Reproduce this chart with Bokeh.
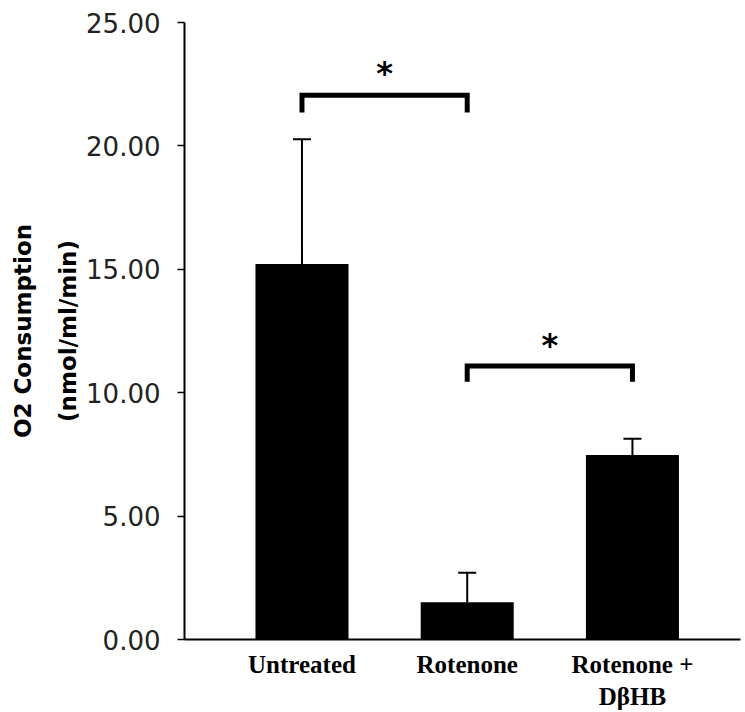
from bokeh.plotting import figure
from bokeh.models import (ColumnDataSource, Range1d, FixedTicker, PrintfTickFormatter,
                          Whisker, TeeHead)
from bokeh.core.properties import value
from bokeh.embed import file_html
from bokeh.resources import INLINE

# ---- data ----
categories = ["Untreated", "Rotenone", "Rotenone +\nD\u03b2HB"]
means = [15.21, 1.51, 7.48]
err_upper = [20.27, 2.70, 8.13]
y_ticks = [0, 5, 10, 15, 20, 25]
# significance brackets: (from category index, to category index), level, star
bracket_from = [0, 1]
bracket_to = [1, 2]
bracket_level = [22.05, 11.08]
bracket_leg = [0.70, 0.64]
star_level = [22.95, 11.95]
star_text = ["*", "*"]

xpos = [i + 1 for i in range(len(categories))]

p = figure(width=745, height=712, output_backend="svg", toolbar_location=None,
           x_range=Range1d(0.289, 3.654), y_range=Range1d(0, 25),
           min_border_left=184, min_border_right=5, min_border_top=22,
           min_border_bottom=72)
p.background_fill_color = "white"
p.border_fill_color = "white"
p.outline_line_color = None
p.xgrid.grid_line_color = None
p.ygrid.grid_line_color = None

src = ColumnDataSource(dict(x=xpos, top=means, upper=err_upper))
p.vbar(x="x", top="top", width=0.563, source=src, fill_color="black", line_color=None)

wh = Whisker(base="x", lower="top", upper="upper", source=src,
             line_color="black", line_width=2,
             upper_head=TeeHead(size=18, line_color="black", line_width=2),
             lower_head=None)
p.add_layout(wh)

# brackets
bxs, bys = [], []
for a, b, lv, lg in zip(bracket_from, bracket_to, bracket_level, bracket_leg):
    x1, x2 = xpos[a], xpos[b]
    bxs.append([x1, x1, x2, x2])
    bys.append([lv - lg, lv, lv, lv - lg])
p.multi_line(xs=bxs, ys=bys, line_color="black", line_width=5, line_join="miter")

sx = [(xpos[a] + xpos[b]) / 2 for a, b in zip(bracket_from, bracket_to)]
p.text(x=sx, y=star_level, text=star_text, text_align="center", text_baseline="middle",
       text_font=value("DejaVu Sans"), text_font_size="32px", text_font_style="bold",
       text_color="black")

# y axis
p.yaxis.ticker = FixedTicker(ticks=y_ticks)
p.yaxis.formatter = PrintfTickFormatter(format="%.2f")
p.yaxis.major_label_text_font = "DejaVu Sans"
p.yaxis.major_label_text_font_size = "26px"
p.yaxis.major_label_text_color = "#222222"
p.yaxis.major_label_standoff = 17
p.yaxis.major_tick_out = 7
p.yaxis.major_tick_in = 0
p.yaxis.minor_tick_line_color = None
p.yaxis.axis_line_width = 2
p.yaxis.major_tick_line_width = 1.5
p.yaxis.axis_label = "O2 Consumption\n(nmol/ml/min)"
p.yaxis.axis_label_text_font = "DejaVu Sans"
p.yaxis.axis_label_text_font_style = "bold"
p.yaxis.axis_label_text_font_size = "23px"
p.yaxis.axis_label_text_line_height = 1.75
p.yaxis.axis_label_text_color = "black"
p.yaxis.axis_label_standoff = 2

# x axis
p.xaxis.ticker = FixedTicker(ticks=xpos)
p.xaxis.major_label_overrides = {x: c for x, c in zip(xpos, categories)}
p.xaxis.major_label_text_font = "Liberation Serif"
p.xaxis.major_label_text_font_style = "bold"
p.xaxis.major_label_text_font_size = "25px"
p.xaxis.major_label_text_color = "black"
p.xaxis.major_tick_line_color = None
p.xaxis.minor_tick_line_color = None
p.xaxis.major_label_standoff = 5
p.xaxis.axis_line_width = 2

open("out.html", "w").write(file_html(p, INLINE))
